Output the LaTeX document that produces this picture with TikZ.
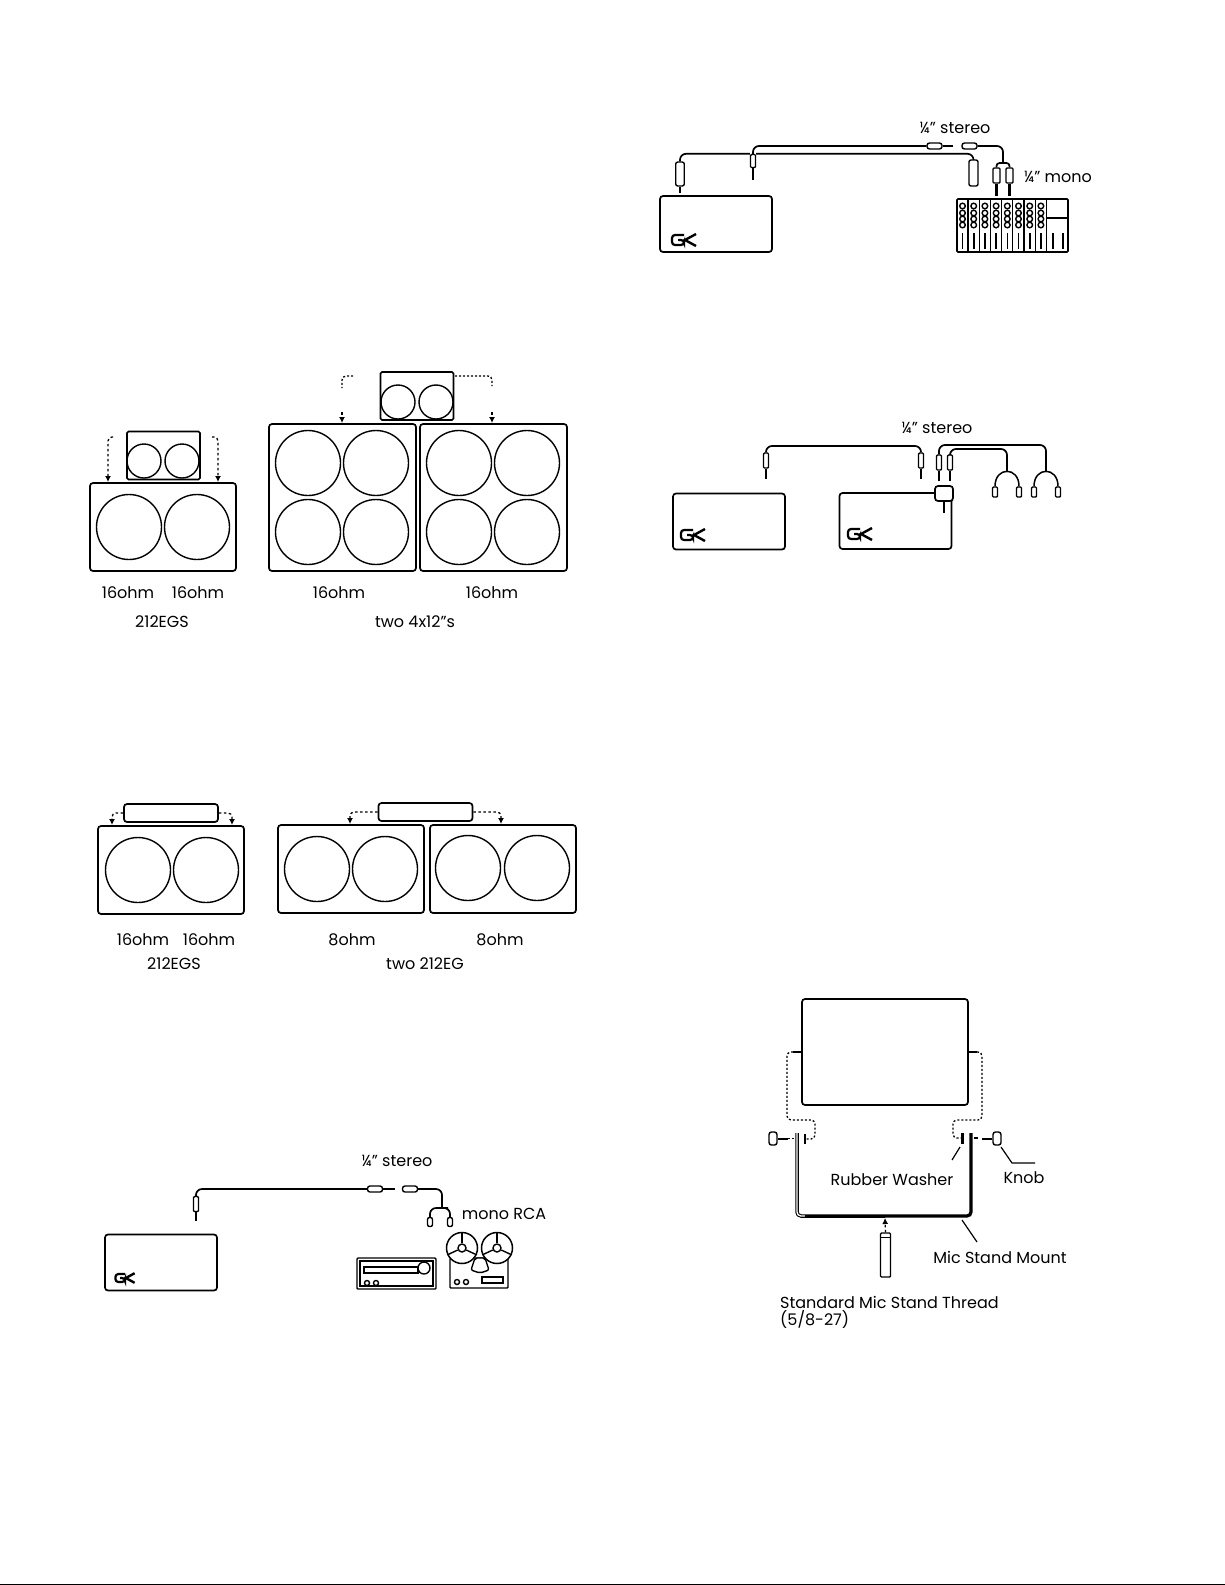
\documentclass[tikz,border=0pt]{standalone}
\usepackage{fontspec}
\setmainfont{Poppins}
\usetikzlibrary{arrows.meta,positioning}
\tikzset{
  cab/.style={draw,rounded corners=3pt,line width=1.7pt,inner sep=0pt},
  cabwide/.style={cab,minimum width=146pt,minimum height=88pt},
  cabtall/.style={cab,minimum width=147pt,minimum height=147pt},
  headbox/.style={cab,fill=white,rounded corners=1.5pt,minimum width=73pt,minimum height=48pt},
  barbox/.style={cab,minimum width=94pt,minimum height=18pt},
  ampbox/.style={cab,minimum width=112pt,minimum height=56pt},
  spk/.style={draw,circle,line width=1.4pt,inner sep=0pt,minimum size=65pt},
  spksmall/.style={spk,minimum size=34pt},
  jackbody/.style={draw,line width=1.4pt,inner sep=0pt,rounded corners=1pt,minimum width=5pt,minimum height=15pt},
  rcabody/.style={jackbody,minimum width=5pt,minimum height=9pt,rounded corners=2pt},
  monobody/.style={jackbody,minimum width=7pt,minimum height=15pt},
  socket/.style={jackbody,minimum width=8.5pt,minimum height=24pt,rounded corners=2pt},
  plug/.style={jackbody,rounded corners=2.5pt,minimum width=15pt,minimum height=6pt},
  cable/.style={line width=1.7pt,rounded corners=6pt},
  tip/.style={line width=2.2pt},
  drop/.style={line width=1.3pt,dash pattern=on 2.5pt off 2.5pt,rounded corners=4pt,-{Latex[length=6pt,width=6pt]}},
  dotline/.style={line width=1.3pt,dash pattern=on 2pt off 2pt,rounded corners=4pt},
  lab/.style={font=\fontsize{16}{18}\selectfont,inner sep=0pt},
  gk/.pic={
    \draw[line width=2.2pt,rounded corners=3pt] (0,-5) -- (-12,-5) -- (-12,5) -- (0,5) -- (0,0) -- (-6,0);
    \draw[line width=2.4pt] (12,-6) -- (1,0) -- (12,6);
  }
}
\begin{document}
\begin{tikzpicture}[x=1pt,y=-1pt]
\useasboundingbox[fill=white] (0,0) rectangle (1225,1585);
\draw[line width=1pt] (0,1584.5) -- (1225,1584.5);

% head on 212EGS
\node[cabwide] (cabEgsA) at (163,527) {};
\node[spk] (spkAa) at (129,527) {};
\node[spk] (spkAb) at (197,527) {};
\node[headbox] (headA) at (163.5,455.5) {};
\node[spksmall] (spkAc) at (144,461) {};
\node[spksmall] (spkAd) at (182,461) {};
\coordinate (dropAa) at (113,437);
\coordinate (landAa) at (108,482);
\coordinate (dropAb) at (212,437);
\coordinate (landAb) at (218,482);
\draw[drop] (dropAa) -| (landAa);
\draw[drop] (dropAb) -| (landAb);
\node[lab] (ohmAa) at (128,593) {16ohm};
\node[lab] (ohmAb) at (198,593) {16ohm};
\node[lab] (nameA) at (162,622) {212EGS};

% head on two 4x12
\node[cabtall] (cabFourA) at (342.5,497.5) {};
\node[cabtall] (cabFourB) at (493.5,497.5) {};
\foreach \cx/\cy/\nm in {308/463/a,376/463/b,308/532/c,376/532/d,459/463/e,527/463/f,459/532/g,527/532/h}
  \node[spk] (spkF\nm) at (\cx,\cy) {};
\node[headbox] (headB) at (417,396) {};
\node[spksmall] (spkBa) at (398,402) {};
\node[spksmall] (spkBb) at (436,402) {};
\coordinate (dropBa) at (353,376);
\coordinate (dropBb) at (342,388);
\coordinate (dropBc) at (342,412);
\coordinate (landBa) at (342,423);
\coordinate (dropBd) at (455,376);
\coordinate (dropBe) at (492,386);
\coordinate (dropBf) at (492,412);
\coordinate (landBb) at (492,423);
\draw[dotline] (dropBa) -| (dropBb);
\draw[dotline] (dropBd) -| (dropBe);
\draw[drop] (dropBc) -- (landBa);
\draw[drop] (dropBf) -- (landBb);
\node[lab] (ohmBa) at (339,593) {16ohm};
\node[lab] (ohmBb) at (492,593) {16ohm};
\node[lab] (nameB) at (415,622) {two 4x12"s};

% bar on 212EGS
\node[cabwide] (cabEgsB) at (171,870) {};
\node[spk] (spkCa) at (138,870) {};
\node[spk] (spkCb) at (206,870) {};
\node[barbox] (barA) at (171,813) {};
\coordinate (landCa) at (112,825);
\coordinate (landCb) at (232,825);
\draw[drop] (barA.west) -| (landCa);
\draw[drop] (barA.east) -| (landCb);
\node[lab] (ohmCa) at (143,940) {16ohm};
\node[lab] (ohmCb) at (209,940) {16ohm};
\node[lab] (nameC) at (174,964) {212EGS};

% bar on two 212EG
\node[cabwide] (cabEgA) at (351,869) {};
\node[cabwide] (cabEgB) at (503,869) {};
\foreach \cx/\cy/\nm in {317/869/a,385/869/b,468/868/c,537/868/d}
  \node[spk] (spkD\nm) at (\cx,\cy) {};
\node[barbox] (barB) at (425.5,812) {};
\coordinate (landDa) at (350,824);
\coordinate (landDb) at (501,824);
\draw[drop] (barB.west) -| (landDa);
\draw[drop] (barB.east) -| (landDb);
\node[lab] (ohmDa) at (352,940) {8ohm};
\node[lab] (ohmDb) at (500,940) {8ohm};
\node[lab] (nameD) at (425,964) {two 212EG};

% amp to receiver and tape deck
\node[ampbox] (ampC) at (161,1262.5) {};
\pic at (125,1278) [scale=.8] {gk};
\node[jackbody] (jackC) at (196,1204) {};
\draw[tip] (jackC.south) -- ++(0,9);
\node[plug] (plugCa) at (375,1189) {};
\node[plug] (plugCb) at (410,1189) {};
\draw[cable] (jackC.north) |- (plugCa.west);
\draw[tip] (plugCa.east) -- ++(12,0);
\coordinate (forkC) at (442,1208);
\node[rcabody] (rcaCa) at (430,1222) {};
\node[rcabody] (rcaCb) at (450,1222) {};
\draw[cable] (plugCb.east) -| (forkC);
\draw[cable] (rcaCa.north) |- (forkC) -| (rcaCb.north);
\node[lab] (labCa) at (397,1161) {¼" stereo};
\node[lab] (labCb) at (504,1214) {mono RCA};
\node[cab,line width=1.4pt,rounded corners=1pt,minimum width=79pt,minimum height=31pt] (radio) at (396.5,1273.5) {};
\draw[line width=1.2pt] (360,1261) rectangle (433,1286);
\draw[line width=1.4pt] (364,1267) rectangle (418,1273);
\draw[fill=white,line width=1.4pt] (424,1268) circle (6pt);
\draw[line width=1.4pt] (367,1283) circle (2.5pt) (376,1283) circle (2.5pt);
\node[cab,line width=1.4pt,rounded corners=1pt,minimum width=58pt,minimum height=30pt] (deck) at (479,1273) {};
\node[draw,circle,fill=white,line width=1.5pt,inner sep=0pt,minimum size=31pt] (reelA) at (462,1248) {};
\node[draw,circle,fill=white,line width=1.5pt,inner sep=0pt,minimum size=31pt] (reelB) at (497,1248) {};
\node[draw,circle,line width=1.4pt,inner sep=0pt,minimum size=8pt] (hubA) at (462,1248) {};
\node[draw,circle,line width=1.4pt,inner sep=0pt,minimum size=8pt] (hubB) at (497,1248) {};
\foreach \ang in {90,205,335} {
  \draw[line width=1.4pt] (hubA.\ang) -- (reelA.\ang);
  \draw[line width=1.4pt] (hubB.\ang) -- (reelB.\ang);
}
\draw[fill=white,line width=1.4pt,rounded corners=2pt] (475,1258) -- (485,1258) -- (489,1270) -- (480,1273) -- (471,1270) -- cycle;
\draw[line width=1.4pt] (457,1282) circle (2.5pt) (466,1282) circle (2.5pt);
\draw[line width=1.4pt] (482,1277) rectangle (503,1283);

% amp to mixer
\node[ampbox] (ampD) at (716,224) {};
\pic at (684,240) {gk};
\node[socket] (socketDa) at (680,174) {};
\node[socket,minimum width=9pt,minimum height=26pt] (socketDb) at (973.5,173) {};
\draw[line width=2pt] (socketDa.south) -- ++(0,6);
\node[jackbody,minimum height=13pt] (jackD) at (753,161) {};
\draw[tip] (jackD.south) -- ++(0,12);
\node[plug] (plugDa) at (934.5,146) {};
\node[plug] (plugDb) at (969.5,146) {};
\draw[tip] (plugDa.east) -- ++(10,0);
\draw[cable] (socketDa.north) |- (jackD.north west);
\draw[cable] (jackD.north) |- (plugDa.west);
\draw[cable] (jackD.north east) -| (socketDb.north);
\coordinate (forkD) at (1003,163);
\node[monobody] (monoDa) at (996.5,175.5) {};
\node[monobody] (monoDb) at (1009.5,175.5) {};
\draw[tip] (monoDa.south) -- ++(0,12);
\draw[tip] (monoDb.south) -- ++(0,12);
\draw[cable] (plugDb.east) -| (forkD);
\draw[cable,rounded corners=3pt] (monoDa.north) |- (forkD) -| (monoDb.north);
\node[lab] (labDa) at (955,128) {¼" stereo};
\node[lab] (labDb) at (1058,177) {¼" mono};
\node[cab,rounded corners=1pt,minimum width=111pt,minimum height=53pt] (mixer) at (1012.5,225.5) {};
\foreach \ch in {0,...,7} {
  \draw[line width=1.3pt] (968+11.2*\ch,199) -- (968+11.2*\ch,252);
  \foreach \ky in {206,213,219,225}
    \draw[line width=1.4pt] (962.5+11.2*\ch,\ky) circle (2.8pt);
  \draw[line width=1.6pt] (962.5+11.2*\ch,233) -- (962.5+11.2*\ch,249);
}
\draw[line width=1.6pt] (1047,218) -- (1068,218);
\draw[line width=1.3pt] (1053,233) -- (1053,249) (1063,233) -- (1063,249);

% headphones off the adapter
\node[ampbox] (ampEa) at (729,521.5) {};
\pic at (693,535) {gk};
\node[ampbox] (ampEb) at (895.5,521) {};
\pic at (860,534) {gk};
\node[cab,fill=white,minimum width=18pt,minimum height=15pt] (adapter) at (944,493.5) {};
\draw[tip] (adapter.south) -- ++(0,11);
\node[jackbody] (jackEa) at (766,460.5) {};
\node[jackbody] (jackEb) at (921,460.5) {};
\node[jackbody] (jackEc) at (939,462.5) {};
\node[jackbody] (jackEd) at (950,462.5) {};
\foreach \jk in {a,b,c,d}
  \draw[tip] (jackE\jk.south) -- ++(0,10);
\coordinate (topEa) at (843,446);
\draw[cable] (jackEa.north) |- (topEa) -| (jackEb.north);
\coordinate (phoneEa) at (1007,472);
\coordinate (phoneEb) at (1046,472);
\coordinate (topEb) at (1000,445);
\coordinate (topEc) at (980,449);
\draw[cable] (jackEc.north) |- (topEb) -| (phoneEb);
\draw[cable] (jackEd.north) |- (topEc) -| (phoneEa);
\foreach \ph/\px in {a/1007,b/1046} {
  \node[jackbody,minimum width=5pt,minimum height=10pt] (earL\ph) at (\px-12,492) {};
  \node[jackbody,minimum width=5pt,minimum height=10pt] (earR\ph) at (\px+12,492) {};
  \draw[line width=1.5pt] (earL\ph.north) .. controls +(0,-20) and +(0,-20) .. (earR\ph.north);
}
\node[lab] (labE) at (937,428) {¼" stereo};

% mic stand mount
\node[cab,minimum width=166pt,minimum height=106pt] (ampF) at (885,1052) {};
\coordinate (brkLa) at (802,1052);
\coordinate (brkLs) at (793,1052);
\coordinate (brkLb) at (787,1120);
\coordinate (brkLc) at (815,1130);
\coordinate (washerL) at (806,1139);
\coordinate (brkRa) at (968,1052);
\coordinate (brkRs) at (977,1052);
\coordinate (brkRb) at (982,1120);
\coordinate (brkRc) at (953,1130);
\coordinate (washerR) at (962,1138);
\draw[line width=1.6pt] (brkLa) -- (brkLs) (brkRa) -- (brkRs);
\draw[dotline] (brkLs) -| (brkLb) -| (brkLc) |- (washerL);
\draw[dotline] (brkRs) -| (brkRb) -| (brkRc) |- (washerR);
\coordinate (mountL) at (797,1133);
\coordinate (mountC) at (805,1216);
\coordinate (mountB) at (885,1216);
\coordinate (mountR) at (971,1133);
\draw[line width=1.1pt,double distance=1.3pt,rounded corners=4pt] (mountL) |- (mountB);
\draw[line width=2.8pt] (mountC) -- (mountB);
\draw[line width=3.2pt,rounded corners=4pt] (mountB) -| (mountR);
\draw[line width=1.6pt] (805,1134) -- (805,1144);
\draw[line width=3pt] (962,1133) -- (962,1144);
\node[cab,line width=1.4pt,rounded corners=2.5pt,minimum width=8pt,minimum height=13pt] (knobL) at (773,1138.5) {};
\node[cab,line width=1.4pt,rounded corners=2.5pt,minimum width=8pt,minimum height=13pt] (knobR) at (997,1138.5) {};
\draw[line width=2pt] (knobL.east) -- ++(10,0);
\draw[dotline] (knobL.east) ++(10,0) -- ++(7,0);
\draw[line width=2pt] (knobR.west) -- ++(-10,0);
\draw[line width=1.6pt] (974,1138) -- (978,1138);
\node[cab,line width=1.4pt,rounded corners=1pt,minimum width=10pt,minimum height=44pt] (thread) at (885.5,1255) {};
\draw[line width=1.4pt] (thread.north west) ++(0,5) -- ++(10,0);
\coordinate (threadTop) at (885,1218);
\draw[drop] (thread.north) -- (threadTop);
\coordinate (leadWa) at (960,1147);
\coordinate (leadWb) at (952,1160);
\coordinate (leadKa) at (1001,1147);
\coordinate (leadKb) at (1012,1163);
\coordinate (leadKc) at (1035,1163);
\coordinate (leadMa) at (962,1220);
\coordinate (leadMb) at (977,1242);
\draw[line width=1.2pt] (leadWa) -- (leadWb);
\draw[line width=1.2pt] (leadKa) -- (leadKb) -- (leadKc);
\draw[line width=1.2pt] (leadMa) -- (leadMb);
\node[lab] (labFa) at (892,1180) {Rubber Washer};
\node[lab] (labFb) at (1024,1178) {Knob};
\node[lab] (labFc) at (1000,1257) {Mic Stand Mount};
\node[lab,anchor=west] (labFd) at (780,1302) {Standard Mic Stand Thread};
\node[lab,anchor=west] (labFe) at (780,1319) {(5/8-27)};
\end{tikzpicture}
\end{document}
